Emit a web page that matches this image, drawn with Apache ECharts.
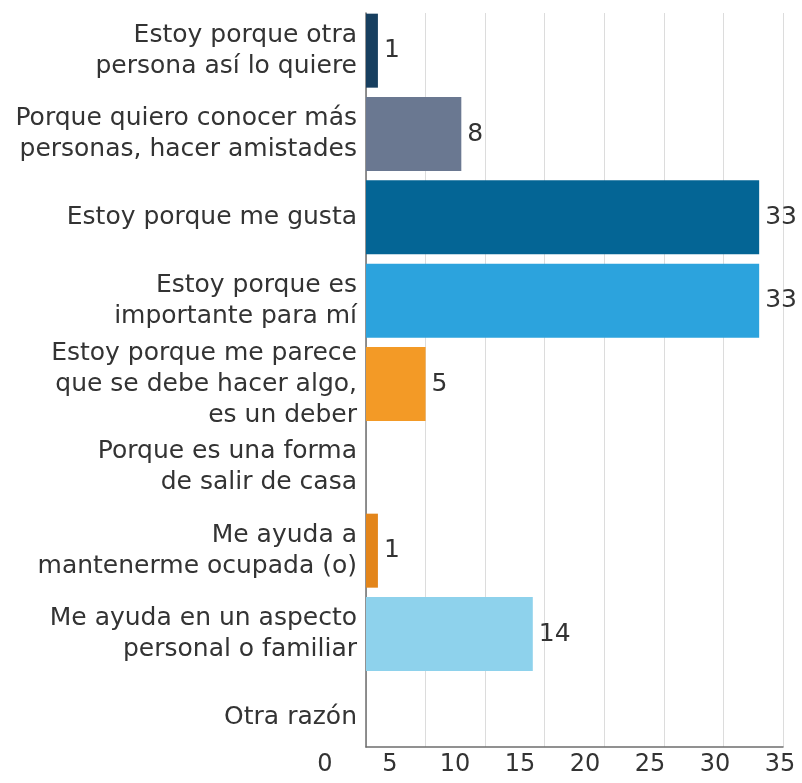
<!DOCTYPE html>
<html>
<head>
<meta charset="utf-8">
<script src="https://cdn.jsdelivr.net/npm/echarts@6/dist/echarts.min.js"></script>
<style>
  html, body { margin: 0; padding: 0; background: #fff; }
  #main { width: 802px; height: 783px; }
</style>
</head>
<body>
<div id="main"></div>
<script>
// categorías y valores
var categorias = [
    'Estoy porque otra\npersona así lo quiere',
    'Porque quiero conocer más\npersonas, hacer amistades',
    'Estoy porque me gusta',
    'Estoy porque es\nimportante para mí',
    'Estoy porque me parece\nque se debe hacer algo,\nes un deber',
    'Porque es una forma\nde salir de casa',
    'Me ayuda a\nmantenerme ocupada (o)',
    'Me ayuda en un aspecto\npersonal o familiar',
    'Otra razón'
];
var valores = [1, 8, 33, 33, 5, null, 1, 14, null];
var colores = ['#173f5f', '#6a7891', '#046595', '#2ca3dd', '#f39a26', '#cccccc', '#e3851a', '#8ed2ec', '#cccccc'];
var ticks = ['0', '5', '10', '15', '20', '25', '30', '35'];

var myChart = echarts.init(document.getElementById('main'));

var fuente = 'DejaVu Sans';

option = {
    animation: false,
    textStyle: { fontFamily: fuente },
    grid: [
        // barras y etiquetas de categorías
        { left: 366, right: 19, top: 9, bottom: 24 },
        // líneas del eje y cuadrícula
        { left: 366, right: 19, top: 13, bottom: 36 },
        // etiquetas de ticks
        { left: 325, right: 22, top: 13, bottom: 36 }
    ],
    xAxis: [
        {
            gridIndex: 0, type: 'value', min: 0, max: 35, interval: 5,
            axisLine: { show: false }, axisTick: { show: false },
            axisLabel: { show: false }, splitLine: { show: false }
        },
        {
            gridIndex: 1, type: 'value', min: 0, max: 35, interval: 5,
            axisLine: { show: true, lineStyle: { color: '#6e6e6e', width: 1.5 } },
            axisTick: { show: false },
            axisLabel: { show: false },
            splitLine: { show: true, lineStyle: { color: '#dcdcdc', width: 1 } }
        },
        {
            gridIndex: 2, type: 'category', data: ticks, boundaryGap: false,
            axisLine: { show: false }, axisTick: { show: false },
            splitLine: { show: false },
            axisLabel: { fontSize: 24, color: '#333', margin: 6, fontFamily: fuente, interval: 0 }
        }
    ],
    yAxis: [
        {
            gridIndex: 0, type: 'category', data: categorias, inverse: true,
            axisLine: { show: false }, axisTick: { show: false },
            axisLabel: {
                fontSize: 25, color: '#333', margin: 9, lineHeight: 31,
                align: 'right', fontFamily: fuente, interval: 0
            }
        },
        {
            gridIndex: 1, type: 'value', min: 0, max: 1,
            axisLine: { show: true, lineStyle: { color: '#6e6e6e', width: 1.5 } },
            axisTick: { show: false }, axisLabel: { show: false },
            splitLine: { show: false }
        },
        {
            gridIndex: 2, type: 'value', min: 0, max: 1, show: false
        }
    ],
    series: [
        {
            name: 'Razón',
            type: 'bar',
            xAxisIndex: 0,
            yAxisIndex: 0,
            barWidth: 74,
            z: 3,
            data: valores.map(function (v, i) {
                return { value: v, itemStyle: { color: colores[i] } };
            }),
            label: {
                show: true,
                position: 'right',
                distance: 6,
                fontSize: 25,
                color: '#333',
                fontFamily: fuente
            }
        }
    ]
};

myChart.setOption(option);
</script>
</body>
</html>
